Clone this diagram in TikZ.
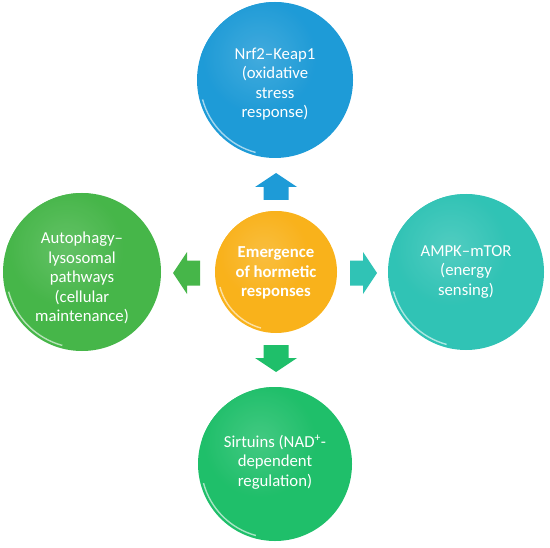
\documentclass[tikz,border=0pt]{standalone}
\usepackage{fontspec}
\setmainfont{Carlito}
\definecolor{cblue}{HTML}{1E9BD7}
\definecolor{corange}{HTML}{F9B21B}
\definecolor{cteal}{HTML}{30C3B5}
\definecolor{cleft}{HTML}{46B649}
\definecolor{cbottom}{HTML}{1FBF6A}
\begin{document}
\begin{tikzpicture}[x=1bp,y=-1bp,
  bubble/.style={circle, minimum size=#1, inner sep=0pt, text=white, align=center,
     font=\fontsize{16.8}{19.5}\selectfont},
  rimline/.style={white, opacity=0.6, line width=1.4bp},
  blockarrow/.style={fill=#1, draw=none}]
\useasboundingbox (0,0) rectangle (550,548);
% circles
\foreach \cx/\cy/\r/\col in {275/80/78/cblue, 466/272/78/cteal, 82/272/79/cleft, 275/464/77/cbottom, 276/272/61/corange}{
  \fill[\col] (\cx,\cy) circle[radius=\r];
  \begin{scope}
    \clip (\cx,\cy) circle[radius=\r];
    \shade[inner color=\col!82!white, outer color=\col, opacity=0.9] (\cx-0.2*\r,\cy-0.3*\r) circle[radius=0.75*\r];
  \end{scope}
  \draw[rimline] (\cx,\cy) ++(105:\r-3) arc[start angle=105, end angle=165, radius=\r-3];
}
\node[bubble=156bp] (nrf) at (275,84) {Nrf2–Keap1\\(oxidative\\stress\\response)};
\node[bubble=156bp] (ampk) at (466,272) {AMPK–mTOR\\(energy\\sensing)};
\node[bubble=158bp] (auto) at (82,278) {Autophagy–\\lysosomal\\pathways\\(cellular\\maintenance)};
\node[bubble=154bp] (sirt) at (275,462) {Sirtuins (NAD\textsuperscript{+}-\\dependent\\regulation)};
\node[bubble=122bp, font=\fontsize{16.8}{19.5}\selectfont\bfseries] (core) at (276,273) {Emergence\\of hormetic\\responses};
% block arrows
\fill[blockarrow=cblue] (276,173) -- (297,187) -- (288.5,187) -- (288.5,200) -- (263.5,200) -- (263.5,187) -- (255,187) -- cycle;
\fill[blockarrow=cbottom] (276,372) -- (297,358) -- (288.5,358) -- (288.5,345) -- (263.5,345) -- (263.5,358) -- (255,358) -- cycle;
\fill[blockarrow=cteal] (377,273) -- (363,252) -- (363,260.5) -- (350,260.5) -- (350,285.5) -- (363,285.5) -- (363,294) -- cycle;
\fill[blockarrow=cleft] (173,273) -- (187,252) -- (187,260.5) -- (200,260.5) -- (200,285.5) -- (187,285.5) -- (187,294) -- cycle;
\end{tikzpicture}
\end{document}
